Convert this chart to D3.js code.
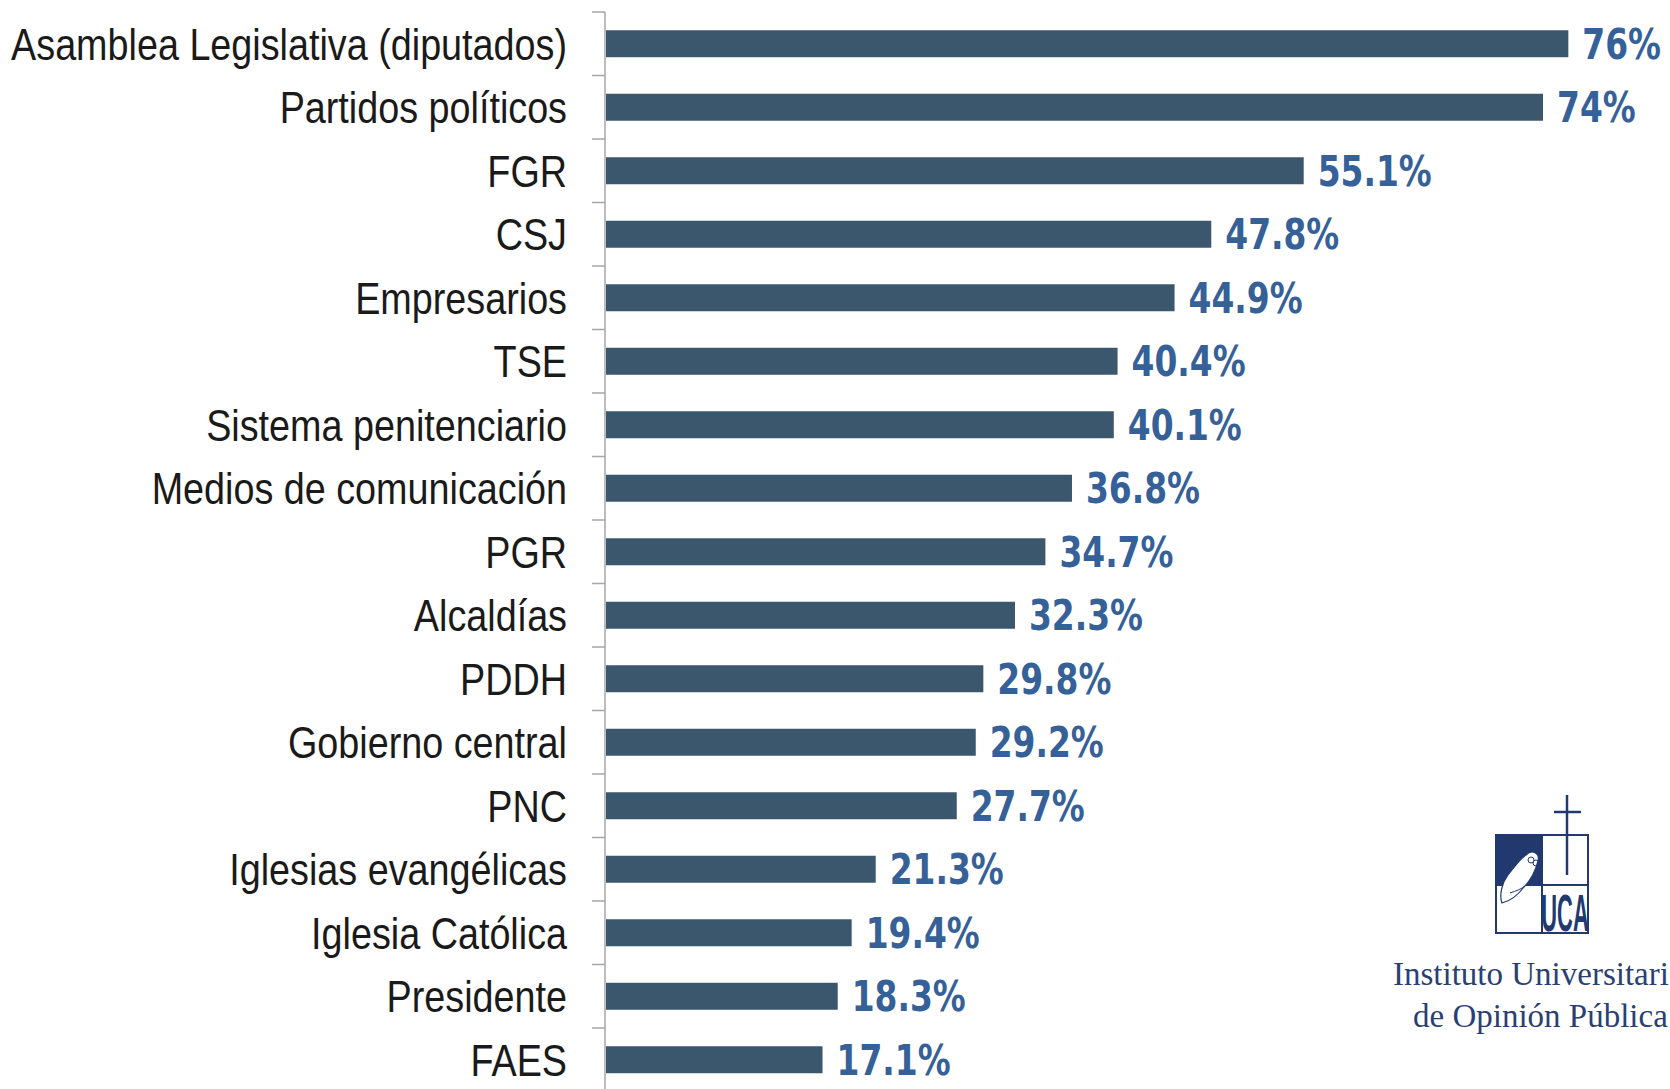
<!DOCTYPE html>
<html lang="es">
<head>
  <meta charset="UTF-8">
  <title>Desconfianza en instituciones</title>
  <script src="https://d3js.org/d3.v7.min.js"></script>
  <style>
    body { margin: 0; padding: 0; background: #fff; overflow: hidden; }
    svg { display: block; }
  </style>
</head>
<body>
  <svg id="chart" width="1670" height="1089"></svg>

  <script>
    // Categories top to bottom and their percentages
    const categories = [
      "Asamblea Legislativa (diputados)",
      "Partidos políticos",
      "FGR",
      "CSJ",
      "Empresarios",
      "TSE",
      "Sistema penitenciario",
      "Medios de comunicación",
      "PGR",
      "Alcaldías",
      "PDDH",
      "Gobierno central",
      "PNC",
      "Iglesias evangélicas",
      "Iglesia Católica",
      "Presidente",
      "FAES"
    ];
    const values = [76, 74, 55.1, 47.8, 44.9, 40.4, 40.1, 36.8, 34.7, 32.3, 29.8, 29.2, 27.7, 21.3, 19.4, 18.3, 17.1];
    const valueLabels = ["76%", "74%", "55.1%", "47.8%", "44.9%", "40.4%", "40.1%", "36.8%", "34.7%", "32.3%", "29.8%", "29.2%", "27.7%", "21.3%", "19.4%", "18.3%", "17.1%"];

    const svg = d3.select("#chart");

    // layout
    const axisX = 605;
    const plotTop = 12;
    const step = 63.5;
    const barRatio = 0.425;

    const y = d3.scaleBand()
      .domain(categories)
      .range([plotTop, plotTop + step * categories.length])
      .padding(0);

    const x = d3.scaleLinear()
      .domain([0, 80])
      .range([axisX + 1, axisX + 1 + 1013]);

    const barH = y.bandwidth() * barRatio;

    // axis line + ticks at band boundaries
    const g = svg.append("g");
    g.append("line")
      .attr("x1", axisX).attr("x2", axisX)
      .attr("y1", plotTop).attr("y2", 1089)
      .attr("stroke", "#a6a6a6").attr("stroke-width", 1.5);

    const bounds = categories.map(d => y(d)).concat([y(categories[categories.length - 1]) + y.bandwidth()]);
    g.selectAll(".tick")
      .data(bounds)
      .enter().append("line")
      .attr("class", "tick")
      .attr("x1", axisX - 13).attr("x2", axisX)
      .attr("y1", d => d).attr("y2", d => d)
      .attr("stroke", "#a6a6a6").attr("stroke-width", 1.5);

    // bars
    svg.selectAll(".bar")
      .data(categories)
      .enter().append("rect")
      .attr("class", "bar")
      .attr("x", x(0))
      .attr("y", d => y(d) + (y.bandwidth() - barH) / 2)
      .attr("width", (d, i) => x(values[i]) - x(0))
      .attr("height", barH)
      .attr("fill", "#3b576d");

    // value labels (squeezed a little, the original face is condensed)
    const valScale = 0.87;
    svg.selectAll(".val")
      .data(categories)
      .enter().append("text")
      .attr("class", "val")
      .attr("transform", (d, i) => `translate(${x(values[i]) + 14},${y(d) + y.bandwidth() / 2}) scale(${valScale},1)`)
      .attr("dy", "0.36em")
      .attr("font-family", "'DejaVu Sans Condensed', 'DejaVu Sans', sans-serif")
      .attr("font-weight", "bold")
      .attr("font-size", 42)
      .attr("fill", "#356098")
      .text((d, i) => valueLabels[i]);

    // category labels, squeezed horizontally so the longest one fits
    const labelRight = 567;
    const labelLeft = 11;
    const cats = svg.selectAll(".cat")
      .data(categories)
      .enter().append("text")
      .attr("class", "cat")
      .attr("dy", "0.36em")
      .attr("text-anchor", "end")
      .attr("font-family", "'Liberation Sans Narrow', 'Arial Narrow', 'Liberation Sans', sans-serif")
      .attr("font-size", 44)
      .attr("fill", "#1a1a1a")
      .text(d => d);
    const widest = d3.max(cats.nodes(), n => n.getComputedTextLength());
    const labelScale = (labelRight - labelLeft) / widest;
    cats.attr("transform", d => `translate(${labelRight},${y(d) + y.bandwidth() / 2}) scale(${labelScale},1)`);

    // UCA / IUDOP logo
    const logo = svg.append("g").attr("transform", "translate(1496,835)");
    const navy = "#22396f";
    logo.append("rect").attr("x", 0).attr("y", 0).attr("width", 46).attr("height", 50).attr("fill", navy);
    logo.append("rect").attr("x", 0).attr("y", 0).attr("width", 92).attr("height", 98)
      .attr("fill", "none").attr("stroke", navy).attr("stroke-width", 2);
    logo.append("line").attr("x1", 46).attr("x2", 46).attr("y1", 0).attr("y2", 98).attr("stroke", navy).attr("stroke-width", 2);
    logo.append("line").attr("x1", 0).attr("x2", 92).attr("y1", 50).attr("y2", 50).attr("stroke", navy).attr("stroke-width", 2);
    // cross
    logo.append("line").attr("x1", 71).attr("x2", 71).attr("y1", -40).attr("y2", 40).attr("stroke", navy).attr("stroke-width", 2.5);
    logo.append("line").attr("x1", 58).attr("x2", 85).attr("y1", -23).attr("y2", -23).attr("stroke", navy).attr("stroke-width", 2.5);
    // owl (simplified)
    logo.append("path")
      .attr("d", "M30,20 C36,14 44,18 42,26 C40,34 36,44 28,52 C22,60 14,66 6,68 C3,60 6,48 12,40 C18,32 24,24 30,20 Z")
      .attr("fill", "#fff").attr("stroke", navy).attr("stroke-width", 1.2);
    logo.append("circle").attr("cx", 35).attr("cy", 25).attr("r", 3).attr("fill", "none").attr("stroke", navy).attr("stroke-width", 1);
    logo.append("circle").attr("cx", 40).attr("cy", 28).attr("r", 3).attr("fill", "none").attr("stroke", navy).attr("stroke-width", 1);
    logo.append("path").attr("d", "M14,58 C20,56 26,54 30,50").attr("fill", "none").attr("stroke", navy).attr("stroke-width", 1);
    // UCA letters
    logo.append("text")
      .attr("transform", "translate(69,96) scale(0.42,1)")
      .attr("text-anchor", "middle")
      .attr("font-family", "'Liberation Sans', sans-serif")
      .attr("font-weight", "bold")
      .attr("font-size", 52)
      .attr("fill", navy)
      .text("UCA");

    svg.append("text")
      .attr("x", 1393).attr("y", 985)
      .attr("font-family", "'Liberation Serif', 'Times New Roman', serif")
      .attr("font-size", 33)
      .attr("fill", "#2b3f73")
      .text("Instituto Universitario");
    svg.append("text")
      .attr("x", 1413).attr("y", 1027)
      .attr("font-family", "'Liberation Serif', 'Times New Roman', serif")
      .attr("font-size", 33)
      .attr("fill", "#2b3f73")
      .text("de Opinión Pública");
  </script>
</body>
</html>
